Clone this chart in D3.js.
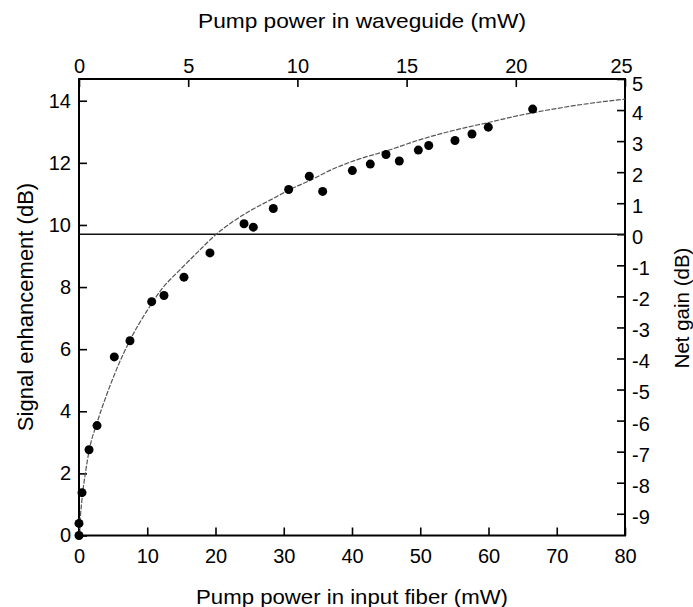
<!DOCTYPE html>
<html>
<head>
<meta charset="utf-8">
<script src="https://cdn.jsdelivr.net/npm/d3@7"></script>
<style>
  html, body { margin: 0; padding: 0; background: #fff; }
  svg { display: block; }
  text { font-family: "Liberation Sans", Arial, Helvetica, sans-serif; fill: #000; }
</style>
</head>
<body>
<svg id="chart" width="693" height="607"></svg>
<script>
// ---- data ----
// measured points: pump power in input fiber (mW), signal enhancement (dB)
const fiberPower = [0, 0, 0.44, 1.47, 2.64, 5.17, 7.47, 10.65, 12.45, 15.38, 19.19,
  24.18, 25.54, 28.47, 30.72, 33.74, 35.7, 40.05, 42.68, 44.98, 46.93, 49.72, 51.24,
  55.09, 57.58, 59.97, 66.47];
const enhancement = [0, 0.39, 1.38, 2.76, 3.54, 5.75, 6.27, 7.53, 7.73, 8.32, 9.10,
  10.04, 9.93, 10.53, 11.14, 11.57, 11.08, 11.75, 11.96, 12.27, 12.06, 12.41, 12.56,
  12.72, 12.93, 13.15, 13.73];
// fitted curve
const curveX = [0, 0.2, 0.5, 1, 1.5, 2.6, 4, 5.5, 7.5, 10, 12, 15, 17.5, 20, 22.5, 25,
  28, 31, 34, 37, 41, 45, 50, 55, 60, 65, 70, 75, 80];
const curveY = [0, 0.6, 1.3, 2.1, 2.75, 3.6, 4.5, 5.35, 6.3, 7.25, 7.9, 8.6, 9.15, 9.68,
  10.1, 10.45, 10.8, 11.15, 11.45, 11.78, 12.12, 12.38, 12.75, 13.05, 13.3, 13.55, 13.75,
  13.92, 14.05];
// axes
const bottomTicks = [0, 10, 20, 30, 40, 50, 60, 70, 80];
const topTicks = [0, 5, 10, 15, 20, 25];
const leftTicks = [0, 2, 4, 6, 8, 10, 12, 14];
const rightTicks = [-9, -8, -7, -6, -5, -4, -3, -2, -1, 0, 1, 2, 3, 4, 5];
const insertionLoss = 9.7; // net gain = enhancement - loss
const xTitleBottom = "Pump power in input fiber (mW)";
const xTitleTop = "Pump power in waveguide (mW)";
const yTitleLeft = "Signal enhancement (dB)";
const yTitleRight = "Net gain (dB)";

// ---- layout ----
const L = 79, R = 625, T = 79, B = 535.5;
const svg = d3.select("#chart");

const x = d3.scaleLinear().domain([0, 80]).range([L, R]);
const xTop = d3.scaleLinear().domain([0, 25]).range([L, R]);
const y = d3.scaleLinear().domain([0, 14.7]).range([B, T]);
const yR = d3.scaleLinear().domain([-insertionLoss, 14.7 - insertionLoss]).range([B, T]);

const fontTick = "20px";

function styleAxis(g) {
  g.selectAll("path.domain").remove();
  g.selectAll(".tick line").attr("stroke", "#000").attr("stroke-width", 1.6);
  g.selectAll(".tick text").style("font-size", fontTick).attr("fill", "#000")
    .style("font-family", '"Liberation Sans", Arial, sans-serif');
}

svg.append("g").attr("transform", `translate(0,${B})`)
  .call(d3.axisBottom(x).tickValues(bottomTicks).tickSize(-8).tickPadding(13).tickFormat(d3.format("d")))
  .call(styleAxis);
const topAx = svg.append("g").attr("transform", `translate(0,${T})`)
  .call(d3.axisTop(xTop).tickValues(topTicks).tickSize(-8).tickPadding(6).tickFormat(d3.format("d")))
  .call(styleAxis);
topAx.selectAll(".tick text").filter(d => d === 25).attr("x", -4);
svg.append("g").attr("transform", `translate(${L},0)`)
  .call(d3.axisLeft(y).tickValues(leftTicks).tickSize(-8).tickPadding(8).tickFormat(d3.format("d")))
  .call(styleAxis);
const rAx = svg.append("g").attr("transform", `translate(${R},0)`)
  .call(d3.axisRight(yR).tickValues(rightTicks).tickSize(-8).tickPadding(7).tickFormat(d => String(d)))
  .call(styleAxis);
rAx.selectAll(".tick text").attr("y", 3);
rAx.selectAll(".tick text").filter(d => d === 5).attr("y", 5);

// frame
svg.append("rect").attr("x", L).attr("y", T).attr("width", R - L).attr("height", B - T)
  .attr("fill", "none").attr("stroke", "#000").attr("stroke-width", 2);

// net gain zero line
svg.append("line")
  .attr("x1", L).attr("x2", R).attr("y1", yR(0)).attr("y2", yR(0))
  .attr("stroke", "#111").attr("stroke-width", 1.3);

// fitted curve
const curve = curveX.map((v, i) => [v, curveY[i]]);
svg.append("path")
  .datum(curve)
  .attr("d", d3.line().x(d => x(d[0])).y(d => y(d[1])).curve(d3.curveMonotoneX))
  .attr("fill", "none").attr("stroke", "#555").attr("stroke-width", 1.2)
  .attr("stroke-dasharray", "5,1.5");

// data points
svg.append("g").selectAll("circle")
  .data(fiberPower.map((v, i) => [v, enhancement[i]]))
  .join("circle")
  .attr("cx", d => x(d[0])).attr("cy", d => y(d[1])).attr("r", 4.5)
  .attr("fill", "#000");

// titles
svg.append("text").attr("x", 352).attr("y", 604).attr("text-anchor", "middle")
  .style("font-size", "21px").attr("textLength", 312).attr("lengthAdjust", "spacingAndGlyphs")
  .text(xTitleBottom);
svg.append("text").attr("x", 362).attr("y", 28).attr("text-anchor", "middle")
  .style("font-size", "21px").attr("textLength", 328).attr("lengthAdjust", "spacingAndGlyphs")
  .text(xTitleTop);
svg.append("text").attr("transform", `translate(33,307) rotate(-90)`).attr("text-anchor", "middle")
  .style("font-size", "22px").text(yTitleLeft);
svg.append("text").attr("transform", `translate(689,308) rotate(-90)`).attr("text-anchor", "middle")
  .style("font-size", "20.5px").text(yTitleRight);
</script>
</body>
</html>
